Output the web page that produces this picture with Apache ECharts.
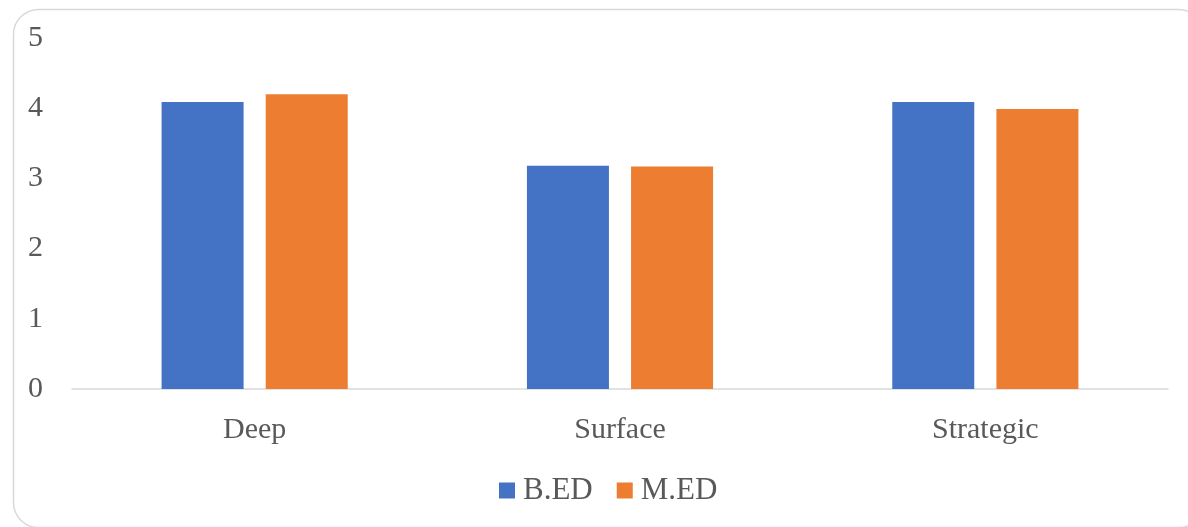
<!DOCTYPE html>
<html>
<head>
<meta charset="utf-8">
<script src="https://cdn.jsdelivr.net/npm/echarts@6/dist/echarts.min.js"></script>
<style>
html,body{margin:0;padding:0;background:#fff;}
#chart{width:1188px;height:527px;}
</style>
</head>
<body>
<div id="chart"></div>
<script>
const categories = ['Deep', 'Surface', 'Strategic'];
const bedValues = [4.09, 3.18, 4.09];
const medValues = [4.2, 3.17, 3.99];
const seriesNames = ['B.ED', 'M.ED'];

const FONT = '"Liberation Serif", "Times New Roman", serif';
const TEXT = '#595959';

const chart = echarts.init(document.getElementById('chart'), null, {renderer: 'canvas'});
chart.setOption({
  animation: false,
  backgroundColor: '#fff',
  graphic: [{
    type: 'rect',
    left: 11, top: 7,
    shape: {width: 1190, height: 518, r: 25},
    style: {fill: 'none', stroke: '#d9d9d9', lineWidth: 1.5},
    silent: true, z: -10
  }],
  grid: {left: 72, right: 20, top: 38, bottom: 138, containLabel: false},
  legend: {
    data: seriesNames,
    bottom: 16,
    left: 494,
    itemWidth: 16, itemHeight: 16, itemGap: 24,
    icon: 'rect',
    textStyle: {fontFamily: FONT, fontSize: 31, color: TEXT, padding: [0, 0, 0, 3]}
  },
  xAxis: {
    type: 'category',
    data: categories,
    axisLine: {lineStyle: {color: '#d9d9d9', width: 1.5}},
    axisTick: {show: false},
    axisLabel: {fontFamily: FONT, fontSize: 30, color: TEXT, margin: 26}
  },
  yAxis: {
    type: 'value',
    min: 0, max: 5, interval: 1,
    splitLine: {show: false},
    axisLine: {show: false},
    axisTick: {show: false},
    axisLabel: {fontFamily: FONT, fontSize: 30, color: TEXT, margin: 29}
  },
  series: [
    {name: seriesNames[0], type: 'bar', data: bedValues, barWidth: 82, barGap: '27%',
     itemStyle: {color: '#4472C4'}},
    {name: seriesNames[1], type: 'bar', data: medValues, barWidth: 82,
     itemStyle: {color: '#ED7D31'}}
  ]
});
</script>
</body>
</html>
